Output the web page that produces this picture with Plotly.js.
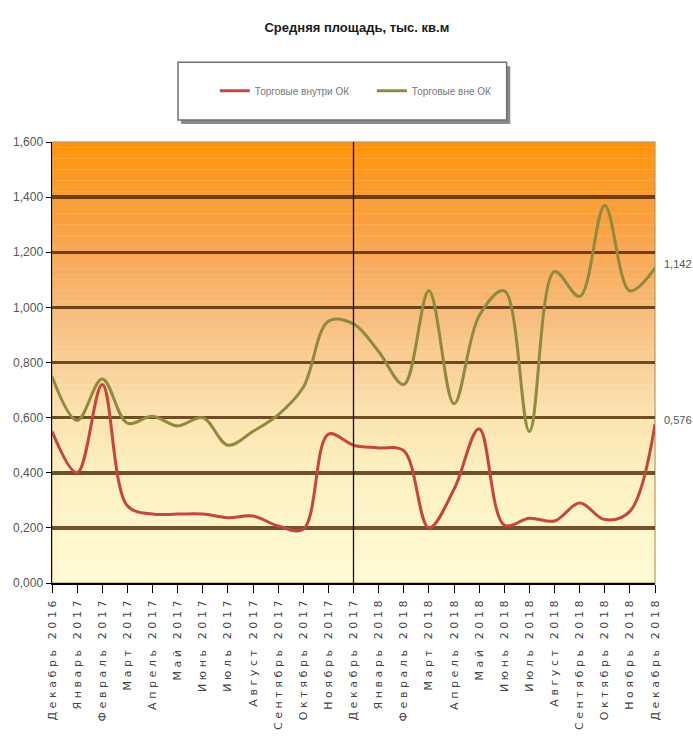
<!DOCTYPE html>
<html>
<head>
<meta charset="utf-8">
<script src="https://cdn.plot.ly/plotly-3.0.1.min.js"></script>
<style>
  html, body { margin: 0; padding: 0; background: #ffffff; }
  #chart { width: 693px; height: 754px; }
  .xtick text { letter-spacing: 3.6px; }
</style>
</head>
<body>
<div id="chart"></div>
<script>
// Months on the category axis
const months = [
  'Декабрь 2016', 'Январь 2017', 'Февраль 2017', 'Март 2017', 'Апрель 2017',
  'Май 2017', 'Июнь 2017', 'Июль 2017', 'Август 2017', 'Сентябрь 2017',
  'Октябрь 2017', 'Ноябрь 2017', 'Декабрь 2017', 'Январь 2018', 'Февраль 2018',
  'Март 2018', 'Апрель 2018', 'Май 2018', 'Июнь 2018', 'Июль 2018',
  'Август 2018', 'Сентябрь 2018', 'Октябрь 2018', 'Ноябрь 2018', 'Декабрь 2018'
];

// Average area, thousand sq. m
const insideValues = [
  0.55, 0.40, 0.72, 0.28, 0.25, 0.25, 0.25, 0.237, 0.243, 0.207,
  0.195, 0.54, 0.50, 0.49, 0.48, 0.20, 0.34, 0.56, 0.21, 0.235,
  0.225, 0.29, 0.23, 0.26, 0.576
];
const outsideValues = [
  0.75, 0.59, 0.74, 0.58, 0.605, 0.57, 0.60, 0.50, 0.55, 0.61,
  0.71, 0.95, 0.94, 0.84, 0.72, 1.06, 0.65, 0.97, 1.06, 0.55,
  1.13, 1.04, 1.37, 1.06, 1.142
];

const seriesNames = ['Торговые внутри ОК', 'Торговые вне ОК'];
const yearBreak = 'Декабрь 2017';

const labelFont = 'Liberation Sans Narrow, Arial Narrow, Liberation Sans, Arial, sans-serif';

// Vertical background gradient: value level -> colour
const gradientStops = [
  [0.0, [255, 251, 214]],
  [0.2, [254, 245, 202]],
  [0.4, [253, 240, 192]],
  [0.6, [251, 228, 176]],
  [0.8, [248, 207, 152]],
  [1.0, [247, 186, 120]],
  [1.2, [248, 168, 84]],
  [1.4, [250, 156, 50]],
  [1.6, [255, 148, 10]]
];
function colourAt(v) {
  for (let i = 1; i < gradientStops.length; i++) {
    const [v0, c0] = gradientStops[i - 1];
    const [v1, c1] = gradientStops[i];
    if (v <= v1) {
      const t = (v - v0) / (v1 - v0);
      const c = c0.map((a, k) => Math.round(a + (c1[k] - a) * t));
      return 'rgb(' + c.join(',') + ')';
    }
  }
  return 'rgb(' + gradientStops[gradientStops.length - 1][1].join(',') + ')';
}

const yMax = 1.6;
const shapes = [];
const strips = 80;
for (let i = 0; i < strips; i++) {
  const a = yMax * i / strips, b = yMax * (i + 1) / strips;
  shapes.push({
    type: 'rect', layer: 'below', xref: 'paper', yref: 'y',
    x0: 0, x1: 1, y0: a, y1: b + 0.001,
    fillcolor: colourAt((a + b) / 2), line: { width: 0 }
  });
}
// thin frame around the plotting area
shapes.push({
  type: 'rect', layer: 'below', xref: 'paper', yref: 'paper',
  x0: 0, x1: 1, y0: 0, y1: 1,
  line: { color: 'rgba(190,150,90,0.8)', width: 1.5 }, fillcolor: 'rgba(0,0,0,0)'
});
// year separator
shapes.push({
  type: 'line', layer: 'above', xref: 'x', yref: 'paper',
  x0: yearBreak, x1: yearBreak, y0: 0, y1: 1,
  line: { color: '#111111', width: 1.3 }
});
// legend frame with drop shadow
shapes.push({
  type: 'rect', xref: 'paper', yref: 'paper',
  x0: 0.214, x1: 0.760, y0: 1.041, y1: 1.172,
  fillcolor: '#8a8a8a', line: { width: 0 }
});
shapes.push({
  type: 'rect', xref: 'paper', yref: 'paper',
  x0: 0.209, x1: 0.754, y0: 1.050, y1: 1.181,
  fillcolor: '#ffffff', line: { color: '#707070', width: 1.5 }
});

const traces = [
  {
    type: 'scatter', mode: 'lines', name: seriesNames[0],
    x: months, y: insideValues,
    line: { color: '#c4463c', width: 3, shape: 'spline', smoothing: 1 },
    hoverinfo: 'x+y'
  },
  {
    type: 'scatter', mode: 'lines', name: seriesNames[1],
    x: months, y: outsideValues,
    line: { color: '#8f8a3e', width: 3, shape: 'spline', smoothing: 1 },
    hoverinfo: 'x+y'
  }
];

// end-of-series value labels on the right
const fmt = v => v.toFixed(3).replace('.', ',');
const lastIdx = months.length - 1;
const annotations = [
  { v: outsideValues[lastIdx] },
  { v: insideValues[lastIdx] }
].map(o => ({
  xref: 'paper', yref: 'y', x: 1, y: o.v,
  xanchor: 'left', yanchor: 'middle', xshift: 7, yshift: 4,
  text: fmt(o.v), showarrow: false,
  font: { family: labelFont, size: 11, color: '#555555' }
}));

const layout = {
  width: 693, height: 754,
  margin: { l: 52, r: 38, t: 142, b: 171 },
  paper_bgcolor: '#ffffff',
  plot_bgcolor: 'rgba(0,0,0,0)',
  separators: ',.',
  showlegend: true,
  title: {
    text: 'Средняя площадь, тыс. кв.м',
    x: 0.515, xanchor: 'center', y: 0.964, yanchor: 'middle',
    font: { family: 'Liberation Sans, Arial, sans-serif', size: 13, color: '#1a1a1a', weight: 'bold' }
  },
  legend: {
    orientation: 'h', x: 0.27, xanchor: 'left', y: 1.116, yanchor: 'middle',
    bgcolor: 'rgba(0,0,0,0)', borderwidth: 0,
    entrywidth: 112, entrywidthmode: 'pixels',
    font: { family: labelFont, size: 10, color: '#777777' }
  },
  xaxis: {
    type: 'category', range: [0, lastIdx],
    showgrid: false, zeroline: false,
    showline: true, linecolor: '#000000', linewidth: 1.5,
    ticks: 'outside', ticklen: 8, tickcolor: '#000000', tickwidth: 1,
    tickangle: -90,
    tickfont: { family: 'DejaVu Sans, sans-serif', size: 11, color: '#444444' },
    fixedrange: true
  },
  yaxis: {
    range: [0, yMax], dtick: 0.2, tick0: 0, tickformat: '.3f',
    showgrid: true, gridcolor: 'rgba(70,35,0,0.78)', gridwidth: 3.5,
    zeroline: false,
    showline: true, linecolor: '#000000', linewidth: 1.5,
    ticks: 'outside', ticklen: 5, tickcolor: '#000000', tickwidth: 1,
    tickfont: { family: labelFont, size: 12, color: '#555555' },
    fixedrange: true
  },
  shapes: shapes,
  annotations: annotations
};

Plotly.newPlot('chart', traces, layout, { displayModeBar: false, staticPlot: true });
</script>
</body>
</html>
